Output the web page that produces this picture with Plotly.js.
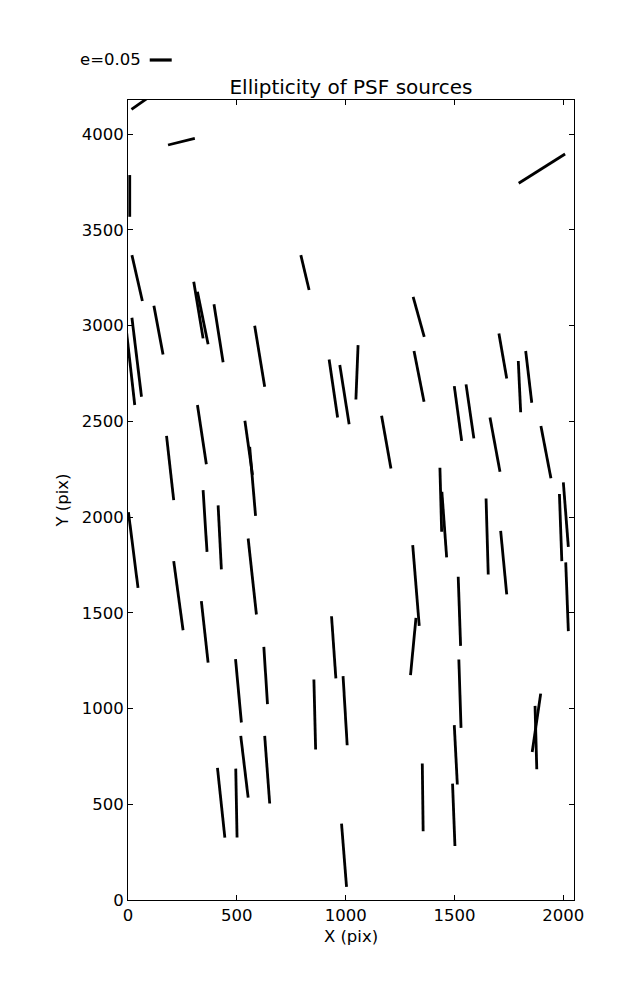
<!DOCTYPE html>
<html>
<head>
<meta charset="utf-8">
<script src="https://cdn.plot.ly/plotly-3.0.1.min.js"></script>
<style>html,body{margin:0;padding:0;background:#fff;}</style>
</head>
<body>
<div id="chart" style="width:637px;height:1000px;"></div>
<script>
// Whisker start / end points (pixel units of the detector)
const segX0 = [16, 184, 8, 18, 302, 319, 119, 18, -10, 395, 582, 177, 319, 537, 559, 345, 414, 794, 1795, 1310, 924, 973, 1057, 1165, 1314, 1704, 1793, 1827, 1499, 1553, 1663, 1897, 1433, 1442, 1982, 2000, 1645, 1712, 1517, 2011, 1520, 1857, 1870, 1308, 1323, 935, 854, 988, 2, 210, 337, 552, 494, 624, 518, 628, 411, 495, 981, 1352, 1499, 1491];
const segY0 = [4129, 3943, 3786, 3368, 3229, 3177, 3103, 3041, 3000, 3111, 2999, 2424, 2585, 2503, 2367, 2141, 2061, 3368, 3743, 3150, 2823, 2794, 2898, 2529, 2867, 2959, 2815, 2867, 2684, 2693, 2520, 2476, 2257, 2132, 2120, 2181, 2097, 1928, 1688, 1763, 1256, 773, 1014, 1853, 1473, 1482, 1152, 1169, 2025, 1770, 1561, 1888, 1258, 1322, 857, 857, 690, 686, 399, 713, 913, 608];
const segX1 = [105, 307, 8, 66, 345, 368, 161, 62, 31, 437, 628, 210, 360, 572, 586, 363, 429, 832, 2008, 1361, 963, 1016, 1047, 1208, 1360, 1740, 1804, 1855, 1533, 1589, 1709, 1943, 1441, 1464, 1993, 2023, 1655, 1740, 1528, 2023, 1530, 1896, 1878, 1338, 1298, 955, 862, 1007, 46, 253, 368, 590, 521, 641, 552, 651, 445, 501, 1004, 1356, 1513, 1502];
const segY1 = [4200, 3978, 3568, 3128, 2933, 2902, 2849, 2628, 2585, 2808, 2680, 2088, 2276, 2220, 2006, 1818, 1727, 3186, 3896, 2941, 2520, 2485, 2614, 2254, 2602, 2724, 2547, 2597, 2398, 2411, 2236, 2202, 1923, 1789, 1770, 1844, 1700, 1596, 1327, 1404, 899, 1078, 683, 1432, 1174, 1157, 786, 808, 1630, 1409, 1240, 1491, 927, 1023, 535, 504, 326, 326, 68, 359, 603, 282];

const xTicks = [0, 500, 1000, 1500, 2000];
const yTicks = [0, 500, 1000, 1500, 2000, 2500, 3000, 3500, 4000];
const legendLabel = 'e=0.05';

const xs = [], ys = [];
for (let i = 0; i < segX0.length; i++) {
  xs.push(segX0[i], segX1[i], null);
  ys.push(segY0[i], segY1[i], null);
}

const FONT = 'DejaVu Sans, sans-serif';
const FS = 16.5;

const trace = {
  type: 'scatter', mode: 'lines', x: xs, y: ys,
  line: {color: '#000', width: 2.8}, connectgaps: false,
  showlegend: false, hoverinfo: 'skip'
};

const axisCommon = {
  showgrid: false, zeroline: false, showline: true, mirror: 'ticks',
  linecolor: '#000', linewidth: 1, ticks: 'inside', ticklen: 5,
  tickwidth: 1, tickcolor: '#000', tickfont: {family: FONT, size: FS, color: '#000'}
};

const layout = {
  width: 637, height: 1000,
  margin: {l: 128, r: 63, t: 100, b: 100},
  paper_bgcolor: '#fff', plot_bgcolor: '#fff',
  font: {family: FONT, color: '#000'},
  title: {text: 'Ellipticity of PSF sources', font: {family: FONT, size: 20, color: '#000'},
          x: 0.551, xanchor: 'center', y: 0.913, yanchor: 'middle', xref: 'container', yref: 'container'},
  xaxis: Object.assign({}, axisCommon, {
    range: [0, 2049], tickvals: xTicks, ticktext: xTicks.map(String),
    title: {text: 'X (pix)', font: {family: FONT, size: FS, color: '#000'}, standoff: 6}
  }),
  yaxis: Object.assign({}, axisCommon, {
    range: [0, 4178], tickvals: yTicks, ticktext: yTicks.map(String),
    title: {text: 'Y (pix)', font: {family: FONT, size: FS, color: '#000'}, standoff: 8}
  }),
  annotations: [{
    text: legendLabel, xref: 'paper', yref: 'paper', x: 0.034, y: 1.05,
    xanchor: 'right', yanchor: 'middle', showarrow: false,
    font: {family: FONT, size: FS, color: '#000'}
  }],
  shapes: [{
    type: 'line', xref: 'paper', yref: 'paper', x0: 0.0487, x1: 0.098, y0: 1.05, y1: 1.05,
    line: {color: '#000', width: 3.2}
  }]
};

Plotly.newPlot('chart', [trace], layout, {staticPlot: true, displayModeBar: false});
</script>
</body>
</html>
